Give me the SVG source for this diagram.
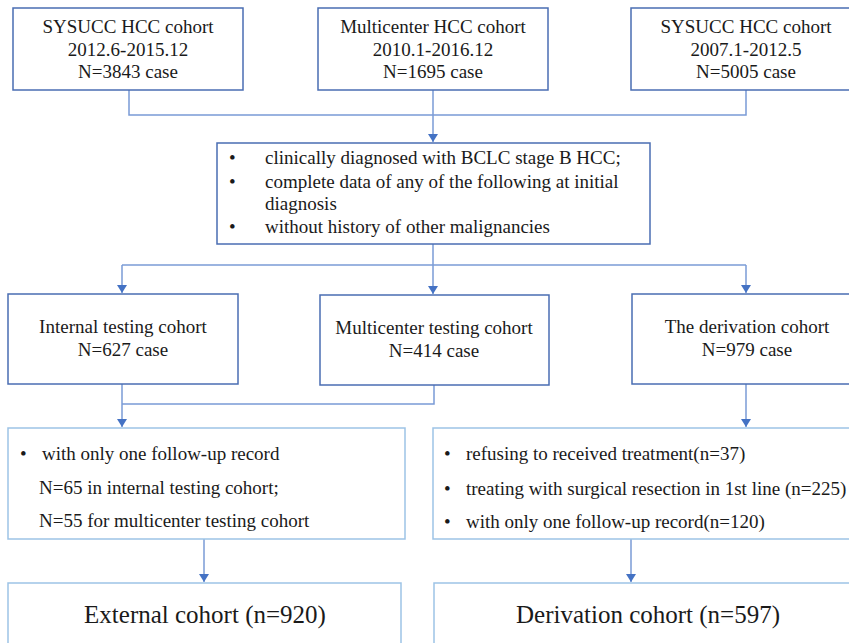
<svg xmlns="http://www.w3.org/2000/svg" width="849" height="643" viewBox="0 0 849 643">
<style>
text{font-family:"Liberation Serif","Times New Roman",serif;font-size:19px;fill:#1a1a1a}
.c{text-anchor:middle}
.big{font-size:25px}
.bd{fill:#fff;stroke:#4a6db3;stroke-width:1.5}
.bl{fill:#fff;stroke:#9dc3e6;stroke-width:1.5}
.ln{fill:none;stroke:#7a9bd6;stroke-width:1.5}
</style>
<defs>
<marker id="ad" markerUnits="userSpaceOnUse" markerWidth="10" markerHeight="10" refX="5" refY="9" viewBox="0 0 10 10">
<path d="M0,1 L10,1 L5,9 Z" fill="#4472c4"/>
</marker>
</defs>
<rect width="849" height="643" fill="#fff"/>
<g id="connectors">
<path class="ln" d="M129,90 V115 H746 V90"/>
<path class="ln" d="M433,90 V142" marker-end="url(#ad)"/>
<path class="ln" d="M433,244 V294" marker-end="url(#ad)"/>
<path class="ln" d="M122,265 H746"/>
<path class="ln" d="M122,265 V293" marker-end="url(#ad)"/>
<path class="ln" d="M746,265 V293" marker-end="url(#ad)"/>
<path class="ln" d="M434,385 V404 H122"/>
<path class="ln" d="M122,384 V427" marker-end="url(#ad)"/>
<path class="ln" d="M746,384 V427" marker-end="url(#ad)"/>
<path class="ln" d="M204,539 V582" marker-end="url(#ad)"/>
<path class="ln" d="M631,539 V582" marker-end="url(#ad)"/>
</g>
<g id="n1">
<rect class="bd" x="13" y="8" width="230" height="82"/>
<text class="c" x="128" y="33">SYSUCC HCC cohort</text>
<text class="c" x="128" y="56">2012.6-2015.12</text>
<text class="c" x="128" y="78">N=3843 case</text>
</g>
<g id="n2">
<rect class="bd" x="318" y="8" width="230" height="82"/>
<text class="c" x="433" y="33">Multicenter HCC cohort</text>
<text class="c" x="433" y="56">2010.1-2016.12</text>
<text class="c" x="433" y="78">N=1695 case</text>
</g>
<g id="n3">
<rect class="bd" x="631" y="8" width="230" height="82"/>
<text class="c" x="746" y="33">SYSUCC HCC cohort</text>
<text class="c" x="746" y="56">2007.1-2012.5</text>
<text class="c" x="746" y="78">N=5005 case</text>
</g>
<g id="criteria">
<rect class="bd" x="217" y="143" width="433" height="101"/>
<text x="229" y="164">•</text>
<text x="265" y="164">clinically diagnosed with BCLC stage B HCC;</text>
<text x="229" y="188">•</text>
<text x="265" y="188">complete data of any of the following at initial</text>
<text x="265" y="210">diagnosis</text>
<text x="229" y="233">•</text>
<text x="265" y="233">without history of other malignancies</text>
</g>
<g id="internal">
<rect class="bd" x="8" y="294" width="230" height="90"/>
<text class="c" x="123" y="333">Internal testing cohort</text>
<text class="c" x="123" y="356">N=627 case</text>
</g>
<g id="multicenter">
<rect class="bd" x="320" y="295" width="229" height="90"/>
<text class="c" x="434" y="334">Multicenter testing cohort</text>
<text class="c" x="434" y="357">N=414 case</text>
</g>
<g id="derivation">
<rect class="bd" x="632" y="294" width="230" height="90"/>
<text class="c" x="747" y="333">The derivation cohort</text>
<text class="c" x="747" y="356">N=979 case</text>
</g>
<g id="excl-left">
<rect class="bl" x="8" y="428" width="397" height="111"/>
<text x="20" y="460">•</text>
<text x="42" y="460">with only one follow-up record</text>
<text x="39" y="494">N=65 in internal testing cohort;</text>
<text x="39" y="527">N=55 for multicenter testing cohort</text>
</g>
<g id="excl-right">
<rect class="bl" x="433" y="428" width="430" height="111"/>
<text x="444" y="460">•</text>
<text x="466" y="460">refusing to received treatment(n=37)</text>
<text x="444" y="495">•</text>
<text x="466" y="495">treating with surgical resection in 1st line (n=225)</text>
<text x="444" y="528">•</text>
<text x="466" y="528">with only one follow-up record(n=120)</text>
</g>
<g id="external">
<rect class="bl" x="8" y="583" width="393" height="80"/>
<text class="c big" x="205" y="623">External cohort (n=920)</text>
</g>
<g id="derivation-final">
<rect class="bl" x="434" y="583" width="428" height="80"/>
<text class="c big" x="648" y="623">Derivation cohort (n=597)</text>
</g>
</svg>
